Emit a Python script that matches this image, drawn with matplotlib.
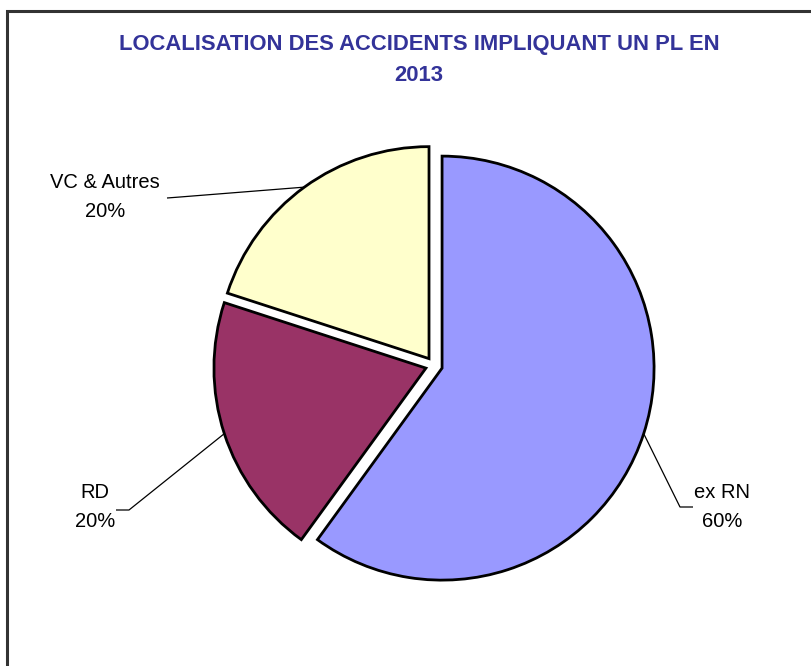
import numpy as np
import matplotlib
matplotlib.use("Agg")
import matplotlib.pyplot as plt
from matplotlib.patches import Rectangle

plt.rcParams['font.family'] = ['Liberation Sans', 'DejaVu Sans']

# data
categories = ["ex RN", "RD", "VC & Autres"]
shares = [60, 20, 20]
colors = ["#9999FF", "#993366", "#FFFFCC"]
title = "LOCALISATION DES ACCIDENTS IMPLIQUANT UN PL EN\n2013"

W, H = 812, 666
R = 212
fig = plt.figure(figsize=(W / 100, H / 100), dpi=100)
ax = fig.add_axes([0, 0, 1, 1])

# explode is an absolute offset in matplotlib, so scale it by the radius
wedges, _ = ax.pie(shares, colors=colors, startangle=90, counterclock=False,
                   explode=[0.04 * R] * len(shares), center=(434, H - 365.5),
                   radius=R, wedgeprops=dict(edgecolor="black", linewidth=2))

# pie() resets the limits, so fix them afterwards
ax.set_xlim(0, W)
ax.set_ylim(0, H)
ax.set_aspect("equal")
ax.axis("off")

# chart frame (only left and top are visible in the picture)
ax.add_patch(Rectangle((7, -10), W + 20, H - 11 + 10, fill=False,
                       edgecolor="#333333", linewidth=2.2))

ax.text(419, H - 60, title, ha="center", va="center", fontsize=15.8,
        fontweight="bold", color="#333399", linespacing=1.6)

# label positions and leader elbows (pixel coords, y from top)
label_pos = [(722, 507), (95, 507), (105, 197)]
elbows = [[(680, 507), (693, 507)], [(129, 510), (116, 510)], [(180, 197), (167, 198)]]

for w, name, val, (tx, ty), elb in zip(wedges, categories, shares, label_pos, elbows):
    ang = np.deg2rad((w.theta1 + w.theta2) / 2)
    cx, cy = w.center
    ax_pt = (cx + w.r * np.cos(ang), cy + w.r * np.sin(ang))
    xs = [ax_pt[0]] + [p[0] for p in elb]
    ys = [ax_pt[1]] + [H - p[1] for p in elb]
    ax.plot(xs, ys, color="black", linewidth=0.9, solid_capstyle="butt")
    ax.text(tx, H - ty, f"{name}\n{val}%", ha="center", va="center",
            fontsize=14.5, color="black", linespacing=1.65)

fig.savefig("out.png", dpi=100)
